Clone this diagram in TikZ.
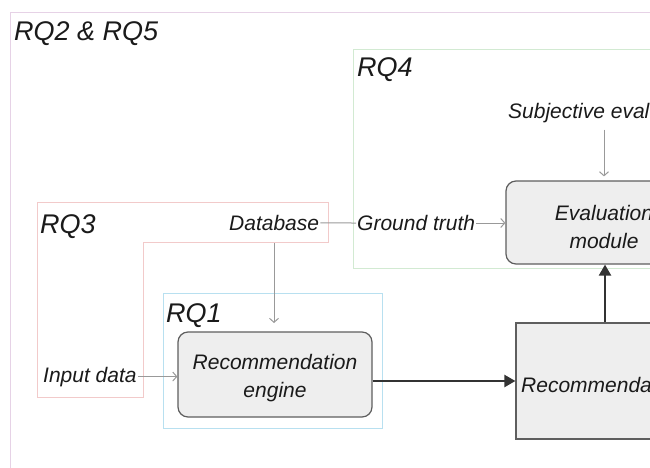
\documentclass[tikz,border=0pt]{standalone}
\usepackage{fontspec}
\setmainfont{Liberation Sans}
\usetikzlibrary{arrows.meta}
\definecolor{outerc}{HTML}{E6D2E6}
\definecolor{rqfourc}{HTML}{D2EAD2}
\definecolor{rqthreec}{HTML}{F2CACA}
\definecolor{rqonec}{HTML}{B8E0F0}
\definecolor{boxfill}{HTML}{EEEEEE}
\definecolor{boxedge}{HTML}{5E5E5E}
\definecolor{darkline}{HTML}{333333}
\definecolor{thingray}{HTML}{999999}
\definecolor{txt}{HTML}{1A1A1A}
\begin{document}
\begin{tikzpicture}[x=1pt,y=-1pt,
  lbl/.style={font=\fontsize{21}{28}\selectfont\itshape, text=txt, inner sep=1pt},
  rq/.style={font=\fontsize{27}{32}\selectfont\itshape, text=txt, inner sep=0pt, anchor=base west},
  grp/.style={line width=1pt},
  proc/.style={draw=boxedge, fill=boxfill, line width=1.2pt, rounded corners=10pt, inner sep=0pt},
  thinarrow/.style={draw=thingray, line width=1pt, -{Straight Barb[length=4pt,width=9pt]}},
  thinline/.style={draw=thingray, line width=1pt},
  thickarrow/.style={draw=darkline, line width=2.2pt, -{Triangle[length=11pt,width=12pt]}}]
\useasboundingbox (0,0) rectangle (650,468);
\clip (0,0) rectangle (650,468);
% group frames
\draw[grp, draw=outerc] (10.5,12.5) rectangle (700,520);
\draw[grp, draw=rqfourc] (353,50) rectangle (700,268);
\draw[grp, draw=rqthreec] (37,202) -- (328,202) -- (328,242) -- (143,242) -- (143,397) -- (37,397) -- cycle;
\draw[grp, draw=rqonec] (163,293) rectangle (382,428);
% group labels
\node[rq] (t25) at (14,41) {RQ2 \& RQ5};
\node[rq] (t4) at (357,77) {RQ4};
\node[rq] (t3) at (40,233) {RQ3};
\node[rq] (t1) at (166,322) {RQ1};
% process boxes
\node[proc, minimum width=194pt, minimum height=85pt] (reng) at (275,374.5) {};
\node[lbl, align=center] (rengtxt) at (275,378) {Recommendation\\engine};
\node[proc, minimum width=196pt, minimum height=83pt] (evm) at (604,222.5) {};
\node[lbl, align=center] (evmtxt) at (604,226.5) {Evaluation\\module};
\node[draw=boxedge, fill=boxfill, line width=1.2pt, minimum width=178pt, minimum height=116pt, inner sep=0pt] (recbox) at (605,381) {};
\node[lbl, anchor=base west] (rectxt) at (520,392) {Recommenda};
% free labels
\node[lbl, anchor=base west] (db) at (228,230.5) {Database};
\node[lbl, anchor=base west] (gt) at (356,230.5) {Ground truth};
\node[lbl, anchor=base west] (subj) at (507,119) {Subjective eval};
\node[lbl, anchor=base west] (inp) at (42,382) {Input data};
\coordinate (dbsrc) at (274,243);
\coordinate (dbend) at (274,323);
% connectors
\draw[thinline] (db.east) -- (gt.west);
\draw[thinarrow] (gt.east) -- (gt.east -| evm.west);
\draw[thinarrow] (inp.east) -- (inp.east -| reng.west);
\draw[thinarrow] (dbsrc) -- (dbend);
\draw[thinarrow, shorten <=5pt, shorten >=4pt] (evm.north |- subj.south) -- (evm.north);
\draw[thickarrow] (reng.east |- recbox.west) -- (recbox.west);
\draw[thickarrow] (recbox.north) -- (evm.south -| recbox.north);
\end{tikzpicture}
\end{document}
